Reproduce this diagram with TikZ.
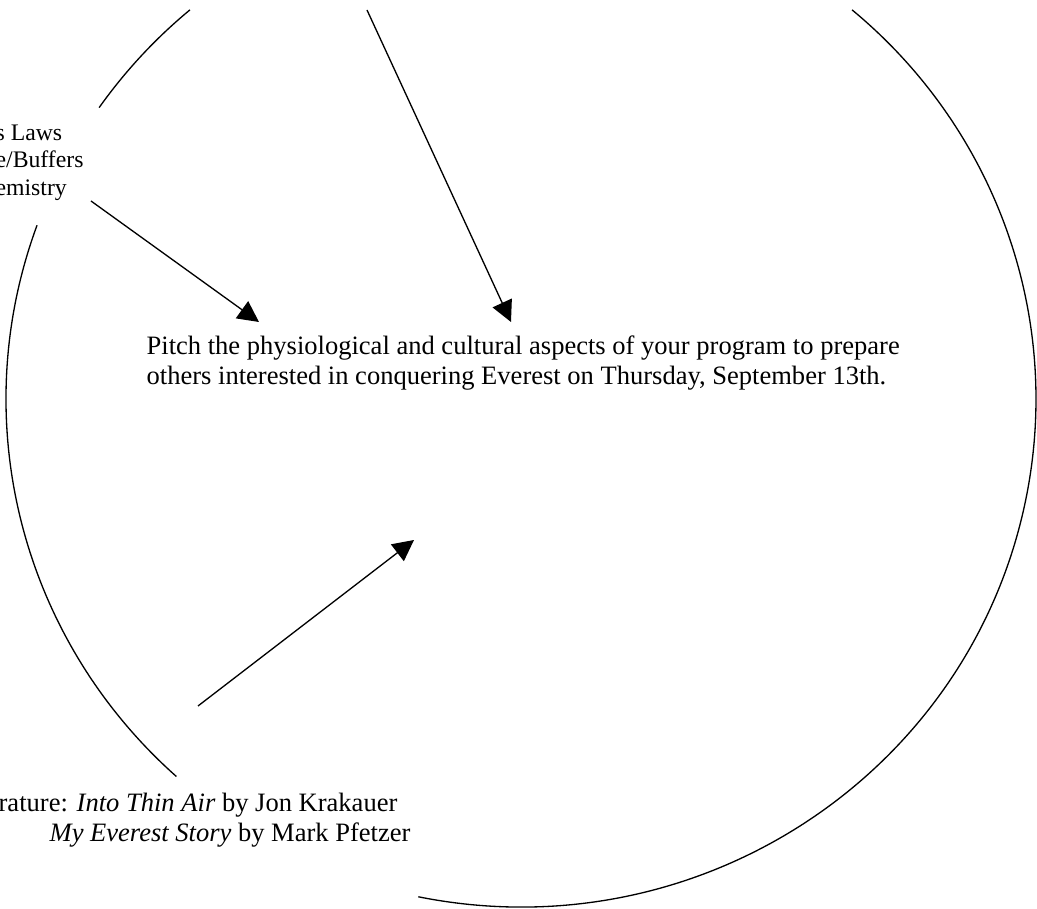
\documentclass[tikz,border=0pt]{standalone}
\usepackage{fontspec}
\setmainfont{Liberation Serif}
\usetikzlibrary{arrows.meta}

\begin{document}
\begin{tikzpicture}[line width=0.75pt,
  pointer/.style={-{Triangle[length=0.42cm,width=0.42cm]}},
  txt/.style={inner sep=0pt, align=left, anchor=west,
    font=\fontsize{15.1pt}{17.1pt}\selectfont}]
\useasboundingbox (0,0) rectangle (20.74,18.18);
\clip (0,0) rectangle (20.74,18.18);
\coordinate (hub) at (10.42,10.20);

% the ring, broken where the labels sit
\draw ([shift={(130:10.30cm and 10.16cm)}]hub)
  arc[start angle=130, end angle=145, x radius=10.30cm, y radius=10.16cm];
\draw ([shift={(160:10.30cm and 10.16cm)}]hub)
  arc[start angle=160, end angle=228, x radius=10.30cm, y radius=10.16cm];
\draw ([shift={(258.5:10.30cm and 10.16cm)}]hub)
  arc[start angle=258.5, end angle=410, x radius=10.30cm, y radius=10.16cm];

\node[txt] (goal) at (2.92,10.92)
  {Pitch the physiological and cultural aspects of your program to prepare\\
   others interested in conquering Everest on Thursday, September 13th.};
\node[txt, font=\fontsize{13.5pt}{15.6pt}\selectfont] (sci) at (-0.1,14.93)
  {s Laws\\e/Buffers\\emistry};
\node[txt] (lit) at (-0.04,1.78)
  {rature: \emph{Into Thin Air} by Jon Krakauer\\
   \hspace*{1.02cm}\emph{My Everest Story} by Mark Pfetzer};

\coordinate (topTail) at (7.34,17.98);
\coordinate (topTip) at (10.22,11.74);
\coordinate (sciTail) at (1.82,14.16);
\coordinate (sciTip) at (5.18,11.74);
\coordinate (litTail) at (3.96,4.06);
\coordinate (litTip) at (8.28,7.38);

\draw[pointer] (topTail) -- (topTip);
\draw[pointer] (sciTail) -- (sciTip);
\draw[pointer] (litTail) -- (litTip);
\end{tikzpicture}
\end{document}
